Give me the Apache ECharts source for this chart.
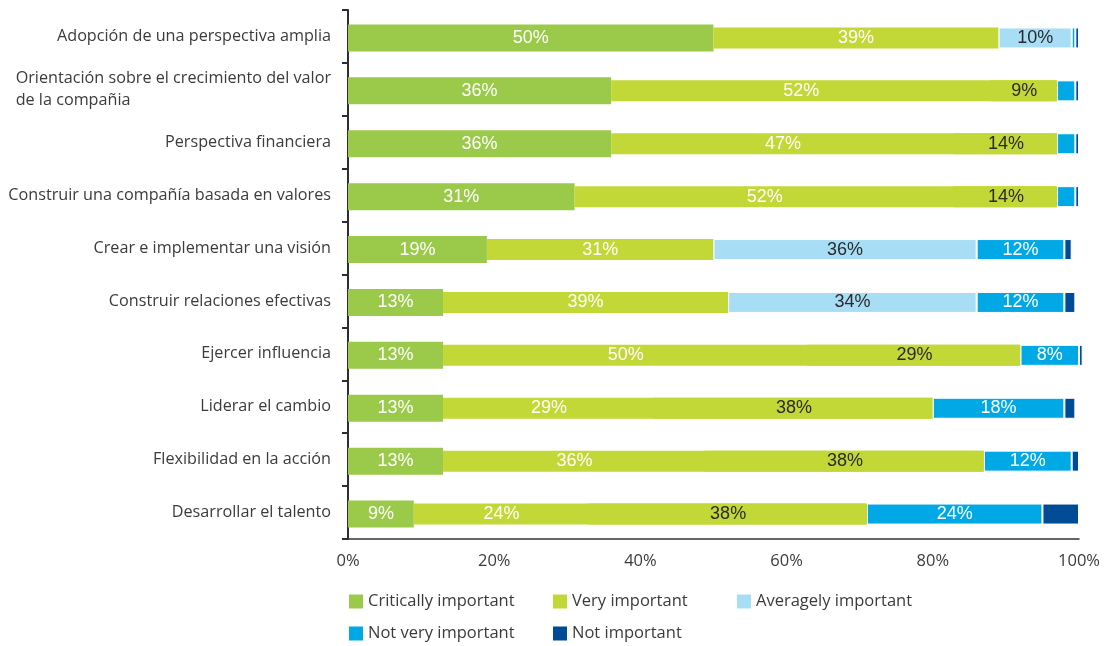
<!DOCTYPE html>
<html>
<head>
<meta charset="utf-8">
<script src="https://cdn.jsdelivr.net/npm/echarts@6/dist/echarts.min.js"></script>
<style>
  html, body { margin: 0; padding: 0; background: #fff; }
  #chart { width: 1118px; height: 646px; }
</style>
</head>
<body>
<div id="chart"></div>
<script>
// Competencias de liderazgo: importancia percibida (% de respuestas)
const categories = [
  'Adopción de una perspectiva amplia',
  'Orientación sobre el crecimiento del valor\nde la compañia',
  'Perspectiva financiera',
  'Construir una compañía basada en valores',
  'Crear e implementar una visión',
  'Construir relaciones efectivas',
  'Ejercer influencia',
  'Liderar el cambio',
  'Flexibilidad en la acción',
  'Desarrollar el talento'
];
const seriesNames = ['Critically important', 'Very important', 'Averagely important', 'Not very important', 'Not important'];
const critical     = [50, 36, 36, 31, 19, 13, 13, 13, 13, 9];
const veryImp      = [39, 52, 47, 52, 31, 39, 50, 29, 36, 24];
const averagely    = [10, 9, 14, 14, 36, 34, 29, 38, 38, 38];
const notVery      = [0.5, 2.5, 2.5, 2.5, 12, 12, 8, 18, 12, 24];
const notImportant = [0.5, 0.5, 0.5, 0.5, 1, 1.5, 0.5, 1.5, 1, 5];
const xTicks = [0, 20, 40, 60, 80, 100];

// Rows whose "averagely" segment is printed in the "very important" fill
const sharedFillRows = [
  'Orientación sobre el crecimiento del valor\nde la compañia',
  'Perspectiva financiera',
  'Construir una compañía basada en valores',
  'Ejercer influencia',
  'Liderar el cambio',
  'Flexibilidad en la acción',
  'Desarrollar el talento'
];

const COLORS = ['#9BC94A', '#C2D836', '#A8DEF5', '#00A9E6', '#004B96'];
const TEXT = '#3b3b3b';
const UI_FONT = 'Open Sans';
const UI_SIZE = 16.5;

const WIDE = 27, NARROW = 21;
// gap that centres the narrow stack on the wide bar
const gapPct = ((WIDE - NARROW) / (2 * WIDE) - 1) * 100;

function barLabel(color, minValue) {
  return {
    show: true,
    position: 'inside',
    color: color,
    fontFamily: 'Liberation Sans',
    fontSize: 18,
    formatter: p => (p.value >= minValue ? p.value + '%' : '')
  };
}
const whiteEdge = { borderColor: '#ffffff', borderWidth: 1 };

// same-coloured neighbours: a 1px solid shadow to the left hides the anti-aliased seam
const avgData = averagely.map((v, i) => {
  const shared = sharedFillRows.indexOf(categories[i]) >= 0;
  return {
    value: v,
    itemStyle: shared
      ? { color: COLORS[1], borderWidth: 0, shadowColor: COLORS[1], shadowBlur: 0, shadowOffsetX: -1.5, shadowOffsetY: 0 }
      : Object.assign({ color: COLORS[2] }, whiteEdge)
  };
});

const common = { type: 'bar', barGap: gapPct + '%', animation: false, emphasis: { disabled: true } };

const option = {
  animation: false,
  grid: { left: 348, right: 39, top: 10, bottom: 107 },
  xAxis: {
    type: 'value',
    min: xTicks[0],
    max: xTicks[xTicks.length - 1],
    interval: xTicks[1] - xTicks[0],
    axisLine: { show: true, lineStyle: { color: '#333333', width: 1.5 } },
    axisTick: { show: false },
    splitLine: { show: false },
    axisLabel: { formatter: '{value}%', margin: 14, color: TEXT, fontFamily: UI_FONT, fontSize: UI_SIZE }
  },
  yAxis: {
    type: 'category',
    inverse: true,
    data: categories,
    axisLine: { show: true, lineStyle: { color: '#2e2e2e', width: 2 } },
    axisTick: { show: true, length: 6, lineStyle: { color: '#2e2e2e', width: 2 } },
    axisLabel: {
      margin: 17,
      color: TEXT,
      fontFamily: UI_FONT,
      fontSize: 16.2,
      lineHeight: 22,
      formatter: v => v.split('\n').map(s => '{a|' + s + '}').join('\n'),
      rich: { a: { align: 'left', color: TEXT, fontFamily: UI_FONT, fontSize: 16.2, lineHeight: 22 } }
    }
  },
  legend: [
    [seriesNames[0], 349, 593],
    [seriesNames[1], 553, 593],
    [seriesNames[2], 737, 593],
    [seriesNames[3], 349, 625],
    [seriesNames[4], 553, 625]
  ].map(([name, left, top]) => ({
    data: [name], left: left, top: top, padding: 0,
    icon: 'rect', itemWidth: 14, itemHeight: 14, selectedMode: false,
    itemStyle: { borderWidth: 0, shadowBlur: 0, shadowOffsetX: 0 },
    textStyle: { color: TEXT, fontFamily: UI_FONT, fontSize: UI_SIZE }
  })),
  series: [
    Object.assign({}, common, {
      name: seriesNames[0], barWidth: WIDE, data: critical,
      itemStyle: { color: COLORS[0] }, label: barLabel('#ffffff', 0)
    }),
    // invisible base so the narrower stack starts where the critical bar ends
    Object.assign({}, common, {
      name: 'base', stack: 'rest', barWidth: NARROW, data: critical, silent: true,
      itemStyle: { color: 'rgba(0,0,0,0)' }, label: { show: false }
    }),
    Object.assign({}, common, {
      name: seriesNames[1], stack: 'rest', barWidth: NARROW, data: veryImp,
      itemStyle: { color: COLORS[1] }, label: barLabel('#ffffff', 0)
    }),
    Object.assign({}, common, {
      name: seriesNames[2], stack: 'rest', barWidth: NARROW, data: avgData,
      itemStyle: { color: COLORS[2] }, label: barLabel('#2a2a2a', 0)
    }),
    Object.assign({}, common, {
      name: seriesNames[3], stack: 'rest', barWidth: NARROW, data: notVery,
      itemStyle: Object.assign({ color: COLORS[3] }, whiteEdge), label: barLabel('#ffffff', 5)
    }),
    Object.assign({}, common, {
      name: seriesNames[4], stack: 'rest', barWidth: NARROW, data: notImportant, clip: false,
      itemStyle: Object.assign({ color: COLORS[4] }, whiteEdge), label: { show: false }
    })
  ]
};

const chart = echarts.init(document.getElementById('chart'), null, { renderer: 'canvas' });
chart.setOption(option);
</script>
</body>
</html>
